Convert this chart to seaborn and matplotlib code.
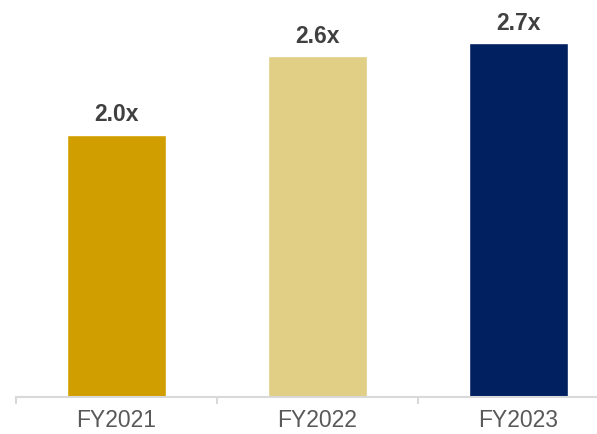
import matplotlib
matplotlib.use("Agg")
import matplotlib.pyplot as plt
import seaborn as sns
import pandas as pd

categories = ["FY2021", "FY2022", "FY2023"]
values = [2.0, 2.6, 2.7]
labels = ["2.0x", "2.6x", "2.7x"]
colors = ["#D19E00", "#E0CF85", "#002060"]

sns.set_theme(style="white")
plt.rcParams["font.family"] = ["Liberation Sans", "DejaVu Sans"]

df = pd.DataFrame({"cat": categories, "val": values})

fig = plt.figure(figsize=(5.97, 4.35), dpi=100)
ax = fig.add_axes([16/597, 1 - 398/435, 1 - 16/597, 398/435])

sns.barplot(data=df, x="cat", y="val", hue="cat", palette=colors, legend=False,
            width=0.49, saturation=1, ax=ax)

for i, (v, t) in enumerate(zip(values, labels)):
    ax.annotate(t, (i, v), xytext=(0, 7), textcoords="offset points",
                ha="center", va="bottom", fontsize=16.5, fontweight="bold",
                color="#404040")

ax.set_ylim(0, 398/131)
ax.set_xlim((16 - 116.5)/201, (597 - 116.5)/201)
ax.set_xlabel("")
ax.set_ylabel("")
ax.set_yticks([])
for s in ["top", "right", "left"]:
    ax.spines[s].set_visible(False)
ax.spines["bottom"].set_color("#D9D9D9")
ax.spines["bottom"].set_linewidth(1.5)
ax.tick_params(axis="x", which="major", length=0, pad=8, labelsize=16.5,
               labelcolor="#595959")
ax.set_xticks([-0.5, 0.5, 1.5], minor=True)
ax.tick_params(axis="x", which="minor", length=5, width=1.5, color="#D9D9D9",
               direction="out", bottom=True)

fig.savefig("out.png", dpi=100)
